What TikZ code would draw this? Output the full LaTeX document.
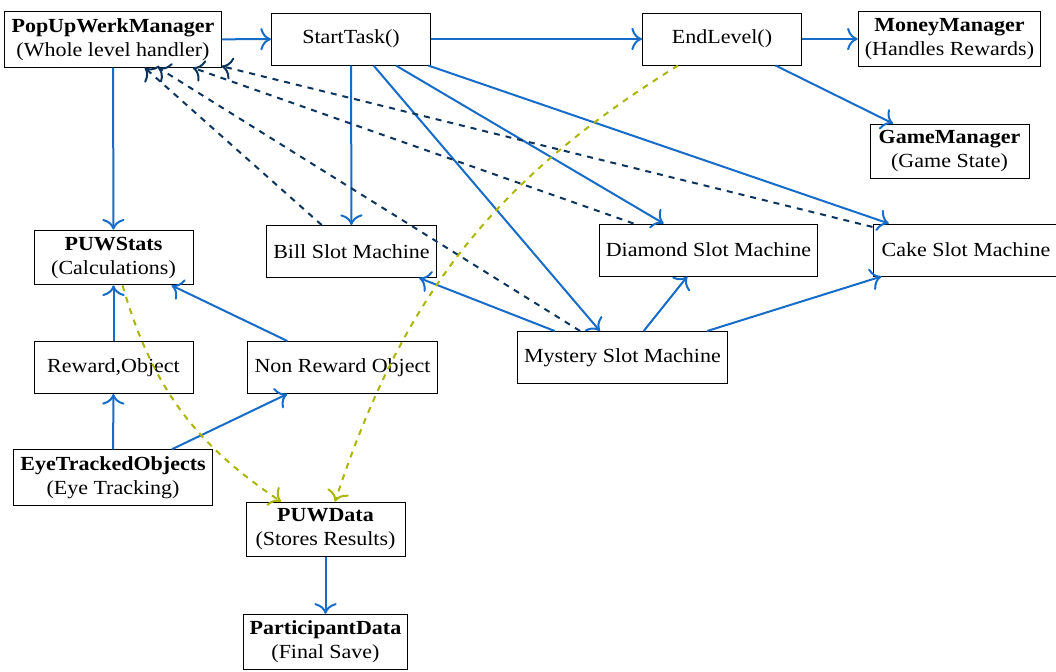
\documentclass[tikz,border=0pt]{standalone}
\usepackage{fontspec}
\setmainfont{Liberation Serif}[FakeStretch=1.1]
\usetikzlibrary{arrows.meta}
\definecolor{flowblue}{RGB}{22,108,200}
\definecolor{backnavy}{RGB}{12,52,92}
\definecolor{dataolive}{RGB}{170,182,0}
\begin{document}
\begin{tikzpicture}[x=0.5pt,y=-0.5pt, >={To[scale=1.4]},
  box/.style={draw, line width=0.5pt, align=center, minimum width=79.5pt, minimum height=26pt, inner sep=3.33pt},
  flow/.style={->, line width=1pt, flowblue},
  backref/.style={->, line width=1pt, dashed, backnavy},
  datalink/.style={->, line width=1pt, dashed, dataolive, bend right=20}]
\useasboundingbox (0,0) rectangle (1056,671);

% top row
\node[box] (puwm) at (113,39.5) {\textbf{PopUpWerkManager}\\(Whole level handler)};
\node[box] (start) at (351,39) {StartTask()};
\node[box] (endl) at (722,39) {EndLevel()};
\node[box] (money) at (949.5,39) {\textbf{MoneyManager}\\(Handles Rewards)};
\node[box] (game) at (949.5,151.5) {\textbf{GameManager}\\(Game State)};

% slot machines
\node[box] (bill) at (351.5,251.5) {Bill Slot Machine};
\node[box] (diamond) at (708.5,250) {Diamond Slot Machine};
\node[box, minimum width=93pt] (cake) at (966,250) {Cake Slot Machine};
\node[box] (mystery) at (622.5,357.5) {Mystery Slot Machine};

% statistics and objects
\node[box] (stats) at (113.5,257.5) {\textbf{PUWStats}\\(Calculations)};
\node[box] (reward) at (113.5,367.5) {Reward,Object};
\node[box] (nonreward) at (342.5,367.5) {Non Reward Object};
\node[box] (eye) at (113,477.5) {\textbf{EyeTrackedObjects}\\(Eye Tracking)};

% data storage
\node[box] (data) at (325.5,529.5) {\textbf{PUWData}\\(Stores Results)};
\node[box] (participant) at (325.5,642) {\textbf{ParticipantData}\\(Final Save)};

% control flow
\draw[flow] (puwm) -- (start);
\draw[flow] (start) -- (endl);
\draw[flow] (endl) -- (money);
\draw[flow] (endl) -- (game);
\draw[flow] (puwm) -- (stats);
\draw[flow] (start) -- (bill);
\draw[flow] (start) -- (diamond);
\draw[flow] (start) -- (cake);
\draw[flow] (start) -- (mystery);
\draw[flow] (mystery) -- (bill);
\draw[flow] (mystery) -- (diamond);
\draw[flow] (mystery) -- (cake);
\draw[flow] (reward) -- (stats);
\draw[flow] (nonreward) -- (stats);
\draw[flow] (eye) -- (reward);
\draw[flow] (eye) -- (nonreward);
\draw[flow] (data) -- (participant);

% callbacks to the level handler
\draw[backref] (bill) -- (puwm);
\draw[backref] (mystery) -- (puwm);
\draw[backref] (diamond) -- (puwm);
\draw[backref] (cake) -- (puwm);

% results written to storage
\draw[datalink] (stats) to (data);
\draw[datalink] (endl) to (data);
\end{tikzpicture}
\end{document}
